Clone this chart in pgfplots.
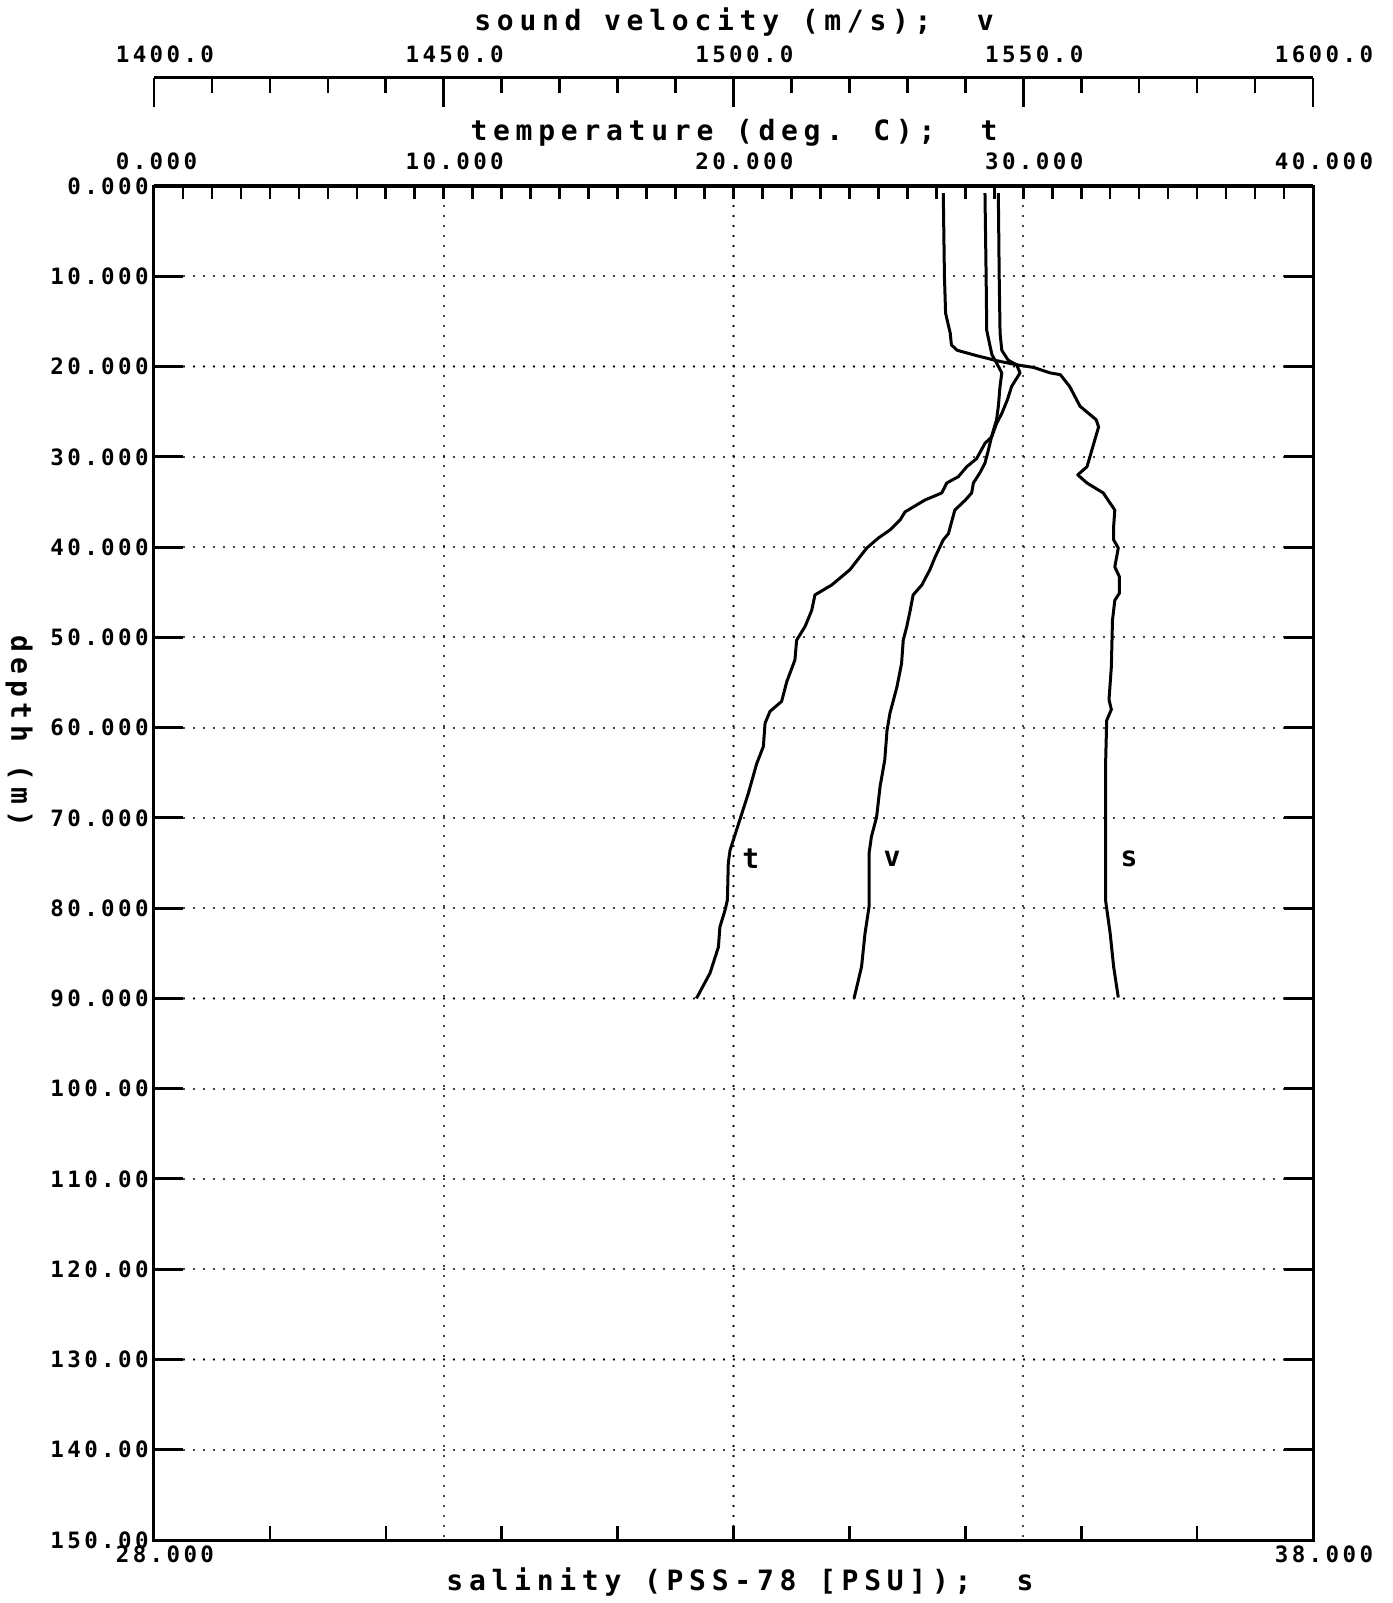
\documentclass[border=0pt]{standalone}
\usepackage{pgfplots}
\pgfplotsset{compat=1.18}
\usepackage{pgfplotstable}
\usepackage{fontspec}
\newfontfamily\titlefont[LetterSpace=20.5]{DejaVu Sans Mono Bold}
\newfontfamily\tickfontfam[LetterSpace=15]{DejaVu Sans Mono Bold}
\newcommand\TF{\titlefont\fontsize{14}{14}\selectfont}
\newcommand\KF{\tickfontfam\fontsize{11.25}{11.25}\selectfont}

\pgfplotstableread{
d t
0.8 29.14
10 29.17
16.3 29.20
18.2 29.26
19.3 29.48
19.8 29.77
20.7 29.89
22.2 29.60
23.7 29.45
25.2 29.26
26.3 29.08
27.8 28.91
28.5 28.68
30.2 28.39
31.1 28.05
32.2 27.76
32.9 27.36
34.0 27.19
34.8 26.60
36.1 25.92
37.0 25.75
38.1 25.40
39.0 25.00
40.1 24.60
42.5 24.02
44.2 23.39
45.3 22.81
47.0 22.70
48.8 22.47
50.3 22.18
52.5 22.12
54.9 21.84
57.1 21.66
58.2 21.26
59.5 21.09
62.1 21.03
64.0 20.80
67.3 20.51
70.2 20.22
73.6 19.88
75.0 19.82
79.1 19.79
80.2 19.71
82.1 19.53
84.3 19.48
87.2 19.19
90.0 18.72
}\tdata

\pgfplotstableread{
d v
0.8 1543.4
10 1543.6
16 1543.7
17.8 1544.3
18.7 1544.6
19.6 1545.4
20.7 1546.3
22.2 1546.0
24.4 1545.7
25.9 1545.4
27.6 1544.6
29.2 1544.0
30.7 1543.4
31.8 1542.5
32.9 1541.4
34.0 1541.1
34.8 1540.0
35.9 1538.2
36.6 1537.9
38.5 1537.1
39.2 1536.2
41.1 1534.8
42.5 1533.9
44.2 1532.5
45.3 1531.0
47.0 1530.5
48.8 1529.9
50.3 1529.3
52.9 1529.0
55.5 1528.2
58.4 1527.0
60.3 1526.5
63.6 1526.1
66.5 1525.3
69.9 1524.7
72.1 1523.8
73.9 1523.4
79.8 1523.4
82.8 1522.7
86.5 1522.1
90.0 1520.8
}\vdata

\pgfplotstableread{
d s
0.8 34.81
10 34.82
14.1 34.83
16.3 34.87
17.6 34.88
18.2 34.93
18.8 35.10
19.35 35.27
19.8 35.44
20.1 35.59
20.7 35.73
20.9 35.82
22.2 35.90
24.4 35.99
25.9 36.13
26.7 36.15
28.9 36.10
31.1 36.05
32.0 35.97
32.9 36.05
34.0 36.19
35.9 36.29
37.7 36.28
39.2 36.28
40.1 36.32
42.2 36.29
43.3 36.33
45.1 36.33
45.9 36.29
48.1 36.27
53.3 36.26
56.9 36.24
58.0 36.26
59.2 36.22
64.3 36.21
71.7 36.21
79.1 36.21
82.8 36.25
86.5 36.28
89.9 36.32
}\sdata

\begin{document}
\begin{tikzpicture}[x=1pt,y=1pt]
\useasboundingbox (-77,-31.5) rectangle (619.5,770);

% main axis: depth vs temperature
\begin{axis}[at={(0pt,0pt)}, anchor=south west, scale only axis,
  width=579.5pt, height=677pt,
  xmin=0, xmax=40, ymin=0, ymax=150, y dir=reverse,
  axis line style={line width=1.5pt},
  xtick={10,20,30}, xticklabels={}, xtick style={draw=none},
  ytick={0,10,...,150}, ytick pos=both, tick align=inside,
  major tick length=14.5pt,
  ytick style={line width=1.5pt, black},
  yticklabels={0.000,10.000,20.000,30.000,40.000,50.000,60.000,70.000,80.000,90.000,100.00,110.00,120.00,130.00,140.00,150.00},
  yticklabel style={font=\KF, anchor=east, inner sep=0pt, xshift=-2.5pt},
  grid=major,
  major grid style={line width=1.1pt, dash pattern=on 0.01pt off 4.99pt, line cap=round, black},
]
\addplot[black, line width=1.5pt, line join=round] table[x=t, y=d] {\tdata};
\addplot[black, line width=1.5pt, line join=round] table[x expr={(\thisrow{v}-1400)/5}, y=d] {\vdata};
\addplot[black, line width=1.5pt, line join=round] table[x expr={(\thisrow{s}-28)*4}, y=d] {\sdata};
\node[font=\TF] at (20.6,74.5) {t};
\node[font=\TF] at (25.47,74.5) {v};
\node[font=\TF] at (33.65,74.5) {s};
\end{axis}

% temperature (top) axis
\begin{axis}[at={(0pt,0pt)}, anchor=south west, scale only axis,
  width=579.5pt, height=677pt,
  xmin=0, xmax=40, ymin=0, ymax=1,
  axis x line*=top, axis y line=none,
  axis line style={line width=1.5pt},
  xtick={0,10,20,30,40}, minor x tick num=9, tick align=inside,
  major tick length=6.5pt, minor tick length=6.5pt,
  every tick/.style={line width=1.3pt, black},
  xticklabels={0.000,10.000,20.000,30.000,40.000},
  xticklabel style={font=\KF, anchor=west, inner sep=0pt, xshift=-19.25pt, yshift=12.25pt},
]
\end{axis}

% salinity (bottom) axis
\begin{axis}[at={(0pt,0pt)}, anchor=south west, scale only axis,
  width=579.5pt, height=677pt,
  xmin=28, xmax=38, ymin=0, ymax=1,
  axis x line*=bottom, axis y line=none,
  axis line style={line width=1.5pt},
  xtick={28,29,...,38}, tick align=inside,
  major tick length=7pt,
  every tick/.style={line width=1.3pt, black},
  xticklabels={28.000,,,,,,,,,,38.000},
  xticklabel style={font=\KF, anchor=west, inner sep=0pt, xshift=-19.25pt, yshift=-7pt},
]
\end{axis}

% sound velocity axis
\begin{axis}[at={(0pt,711pt)}, anchor=south west, scale only axis,
  width=579.5pt, height=20pt,
  xmin=1400, xmax=1600, ymin=0, ymax=1,
  axis x line*=top, axis y line=none,
  axis line style={line width=1.5pt},
  xtick={1400,1450,...,1600}, minor x tick num=4, tick align=inside,
  major tick length=14.5pt, minor tick length=7.5pt,
  every tick/.style={line width=1.3pt, black},
  xticklabels={1400.0,1450.0,1500.0,1550.0,1600.0},
  xticklabel style={font=\KF, anchor=west, inner sep=0pt, xshift=-19.25pt, yshift=12pt},
]
\end{axis}

\node[font=\TF] at (290,758.75) {sound velocity (m/s);~~v};
\node[font=\TF] at (290,703.5) {temperature (deg. C);~~t};
\node[font=\TF] at (293,-21) {salinity (PSS-78 [PSU]);~~s};
\node[font=\TF, rotate=-90] at (-67.5,404.5) {depth (m)};
\end{tikzpicture}
\end{document}
